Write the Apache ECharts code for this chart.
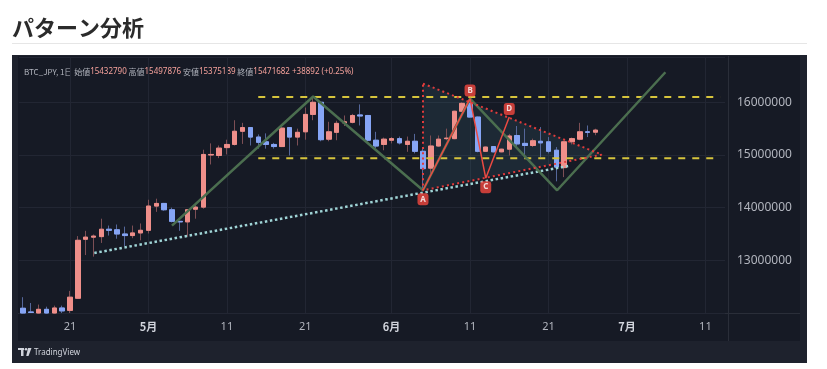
<!DOCTYPE html>
<html><head><meta charset="utf-8">
<script src="https://cdn.jsdelivr.net/npm/echarts@6/dist/echarts.min.js"></script>
<style>
html,body{margin:0;padding:0;background:#fff;}
#wrap{position:relative;width:827px;height:369px;overflow:hidden;}
.bg{position:absolute;}
#c{position:absolute;left:0;top:0;width:827px;height:369px;}
</style>
</head><body>
<div id="wrap">
  <div class="bg" style="left:12px;top:43px;width:795px;height:1px;background:#e6e6e6"></div>
  <div class="bg" style="left:12px;top:55px;width:795px;height:308px;background:#1e222d"></div>
  <div class="bg" style="left:18px;top:56px;width:782px;height:285px;background:#161a25"></div>
  <div id="c"></div>
</div>
<script>
// ---------- data ----------
const title = 'パターン分析';
const symbolName = 'BTC_JPY, 1日';
const startDay = [2025, 4, 15];
const dayCount = 90;
const opens = [12090000,12020000,12000000,12070000,12000000,12095000,12050000,12280000,13400000,13440000,
  13450000,13590000,13580000,13500000,13470000,13520000,13570000,14030000,14080000,13960000,
  13740000,13730000,13970000,14010000,15000000,14990000,15140000,15200000,15450000,15520000,
  15340000,15250000,15200000,15160000,15520000,15340000,15440000,15770000,16000000,15300000,
  15430000,15610000,15620000,15760000,15750000,15280000,15200000,15280000,15310000,15200000,
  15260000,15070000,14750000,15170000,15310000,15310000,15830000,15980000,15720000,15070000,
  15160000,15060000,15110000,15370000,15220000,15180000,15260000,15250000,15090000,14760000,
  15250000,15300000,15440000,15432790];
const closes = [12000000,12010000,12070000,12000000,12095000,12040000,12300000,13380000,13440000,13460000,
  13590000,13570000,13500000,13470000,13520000,13570000,14030000,14080000,13960000,13740000,
  13730000,13960000,14010000,15010000,15010000,15130000,15200000,15450000,15520000,15340000,
  15240000,15200000,15160000,15510000,15340000,15430000,15770000,16000000,15290000,15440000,
  15600000,15630000,15750000,15740000,15280000,15170000,15300000,15310000,15230000,15260000,
  15070000,14740000,15170000,15300000,15320000,15830000,15980000,15720000,15070000,15150000,
  15060000,15110000,15360000,15210000,15180000,15270000,15230000,15070000,14770000,15250000,
  15310000,15440000,15430000,15471682];
const lows = [11990000,12000000,11990000,11990000,11990000,12000000,12000000,12270000,13100000,13070000,
  13330000,13470000,13410000,13270000,13420000,13380000,13510000,13920000,13940000,13720000,
  13560000,13450000,13790000,13980000,14820000,14940000,15010000,15180000,15210000,15180000,
  15120000,15120000,15120000,15150000,14990000,15180000,15290000,15660000,15260000,15260000,
  15280000,15550000,15600000,15560000,15260000,15130000,15090000,15220000,15200000,15060000,
  15030000,14330000,14610000,15150000,15280000,15300000,15820000,15710000,15050000,15060000,
  15050000,15050000,14990000,15150000,14960000,15150000,14960000,15030000,14500000,14580000,
  15200000,15280000,15340000,15375189];
const highs = [12300000,12190000,12160000,12120000,12140000,12140000,12420000,13460000,13560000,13490000,
  13790000,13660000,13680000,13640000,13660000,13700000,14150000,14170000,14090000,14000000,
  13750000,13970000,14060000,15100000,15220000,15180000,15290000,15660000,15610000,15530000,
  15390000,15410000,15230000,15530000,15530000,15500000,15900000,16110000,16020000,15630000,
  15650000,15750000,15780000,15960000,15760000,15440000,15330000,15340000,15350000,15350000,
  15400000,15150000,15370000,15370000,15500000,15840000,16000000,16110000,15730000,15160000,
  15170000,15120000,15400000,15550000,15500000,15310000,15530000,15340000,15150000,15260000,
  15330000,15610000,15560000,15497876];
// overlays: x = day index (0 = first day), y = price
const zigzagX = [19.0, 37.0, 51.0, 57.0, 68.1, 81.9];
const zigzagY = [13660000, 16110000, 14330000, 16070000, 14330000, 16570000];
const abcdNames = ['A', 'B', 'C', 'D'];
const abcdX = [51.0, 57.0, 59.0, 62.0];
const abcdY = [14330000, 16070000, 14560000, 15720000];
const triangleX = [51.0, 73.8, 51.0];
const triangleY = [16355000, 15007000, 14330000];
const trendX = [9.1, 69.5];
const trendY = [13139000, 14790000];
const rangeX = [30.0, 88.9];
const rangeTop = 16100000;
const rangeBottom = 14940000;
const yTicks = [13000000, 14000000, 15000000, 16000000];

// ---------- build ----------
const categories = [];
{
  const t0 = Date.UTC(startDay[0], startDay[1] - 1, startDay[2]);
  for (let k = 0; k < dayCount; k++) categories.push(new Date(t0 + k * 86400000).toISOString().slice(0, 10));
}
const dayOf = c => +c.slice(8, 10);
const monthOf = c => +c.slice(5, 7);
const isMarkDay = i => [1, 11, 21].indexOf(dayOf(categories[i])) >= 0;

const candles = opens.map((o, i) => [o, closes[i], lows[i], highs[i]]);
const bodies = opens.map((o, i) => [o, closes[i], Math.min(o, closes[i]), Math.max(o, closes[i])]);
const last = opens.length - 1;
const chg = closes[last] - opens[last];
const pct = (chg / opens[last] * 100).toFixed(2);

const FONT = '"Noto Sans", "Noto Sans CJK JP", sans-serif';
const JP = '"Noto Sans CJK JP", "Noto Sans", sans-serif';
const UP = '#ef8f8a', DN = '#86a5f5', WUP = '#7d4f55', WDN = '#55679a';

const chart = echarts.init(document.getElementById('c'));
const pts = (xs, ys) => xs.map((x, k) => [x, ys[k]]);

chart.setOption({
  animation: false,
  grid: {left: 19, right: 102, top: 57, bottom: 56},
  xAxis: [
    {type: 'category', data: categories, boundaryGap: true,
     axisLine: {show: false}, axisTick: {show: false},
     axisLabel: {interval: (i) => isMarkDay(i), margin: 8, fontSize: 11, fontFamily: FONT, color: '#b2b5be',
       formatter: (v) => dayOf(v) === 1 ? '{m|' + monthOf(v) + '月}' : '{d|' + dayOf(v) + '}',
       rich: {m: {fontWeight: 'bold', color: '#d1d4dc', fontSize: 11, fontFamily: JP},
              d: {color: '#b2b5be', fontSize: 11, fontFamily: FONT}}},
     splitLine: {show: true, interval: (i) => isMarkDay(i), alignWithLabel: true, lineStyle: {color: '#222633', width: 1}}},
    {type: 'value', min: -0.5, max: dayCount - 0.5, show: false}
  ],
  yAxis: {type: 'value', position: 'right', min: 12000000, max: 16860000, interval: 1000000,
    axisLine: {show: false}, axisTick: {show: false},
    axisLabel: {margin: 12, fontSize: 12, fontFamily: FONT, color: '#b2b5be', showMinLabel: false, showMaxLabel: false,
      formatter: (v) => yTicks.indexOf(v) >= 0 ? String(v) : ''},
    splitLine: {lineStyle: {color: '#222633', width: 1}}},
  graphic: [
    {type: 'text', x: 12, y: 28, style: {text: title, fill: '#2b2b2b', font: 'bold 22px ' + JP, verticalAlign: 'middle'}},
    {type: 'rect', shape: {x: 18, y: 56, width: 710, height: 2}, style: {fill: '#161a25'}},
    {type: 'rect', shape: {x: 728, y: 56, width: 1, height: 285}, style: {fill: '#2a2e39'}},
    {type: 'rect', shape: {x: 18, y: 313, width: 782, height: 1}, style: {fill: '#2a2e39'}},
    {type: 'text', x: 24, y: 72, style: {
      text: '{l|' + symbolName + ' 始値}{v|' + opens[last] + '}{l| 高値}{v|' + highs[last] + '}{l| 安値}{v|' + lows[last] +
            '}{l| 終値}{v|' + closes[last] + '}{v| ' + (chg >= 0 ? '+' : '') + chg + ' (' + (chg >= 0 ? '+' : '') + pct + '%)}',
      verticalAlign: 'middle',
      rich: {l: {fill: '#b2b5be', fontSize: 8, fontFamily: JP}, v: {fill: '#f5a19b', fontSize: 8, fontFamily: FONT}}}},
    // TradingView logo (shapes) + text
    {type: 'rect', shape: {x: 18, y: 348, width: 6, height: 2}, style: {fill: '#d1d4dc'}},
    {type: 'rect', shape: {x: 21, y: 348, width: 2.5, height: 8}, style: {fill: '#d1d4dc'}},
    {type: 'circle', shape: {cx: 26, cy: 349.2, r: 1.3}, style: {fill: '#d1d4dc'}},
    {type: 'polygon', shape: {points: [[28, 348], [31.5, 348], [28.5, 356], [26.2, 356]]}, style: {fill: '#d1d4dc'}},
    {type: 'text', x: 34, y: 352.5, style: {text: 'TradingView', fill: '#d1d4dc', fontSize: 8, fontFamily: FONT, verticalAlign: 'middle'}}
  ],
  series: [
    {type: 'custom', xAxisIndex: 1, z: 1, silent: true, data: [[triangleX[0], triangleY[0]]],
     renderItem: (params, api) => ({type: 'polygon',
       shape: {points: triangleX.map((x, k) => api.coord([x, triangleY[k]]))},
       style: {fill: 'rgba(80,150,160,0.13)'}})},
    {type: 'candlestick', xAxisIndex: 0, data: candles, barWidth: 5, z: 2, silent: true,
     itemStyle: {color: WUP, color0: WDN, borderColor: WUP, borderColor0: WDN, borderWidth: 1}},
    {type: 'candlestick', xAxisIndex: 0, data: bodies, barWidth: 5, z: 3, silent: true,
     itemStyle: {color: UP, color0: DN, borderColor: UP, borderColor0: DN, borderWidth: 1}},
    {type: 'line', xAxisIndex: 1, z: 4, silent: true, symbol: 'none', data: pts(rangeX, [rangeTop, rangeTop]),
     lineStyle: {color: '#d6c43c', width: 2, type: [7, 7]}},
    {type: 'line', xAxisIndex: 1, z: 4, silent: true, symbol: 'none', data: pts(rangeX, [rangeBottom, rangeBottom]),
     lineStyle: {color: '#d6c43c', width: 2, type: [7, 7]}},
    {type: 'line', xAxisIndex: 1, z: 4, silent: true, symbol: 'none', data: pts(trendX, trendY),
     lineStyle: {color: '#9fd4d6', width: 2.5, type: [2.5, 2.6]}},
    {type: 'line', xAxisIndex: 1, z: 5, silent: true, symbol: 'none', data: pts(zigzagX, zigzagY),
     lineStyle: {color: '#4b6e4f', width: 2.5}},
    {type: 'line', xAxisIndex: 1, z: 6, silent: true, symbol: 'none',
     data: pts(triangleX.concat([triangleX[0]]), triangleY.concat([triangleY[0]])),
     lineStyle: {color: '#e23b3b', width: 2, type: [2, 3.2]}},
    {type: 'line', xAxisIndex: 1, z: 7, silent: true, symbol: 'none', data: pts(abcdX, abcdY),
     lineStyle: {color: '#ec4a42', width: 1.5}},
    {type: 'scatter', xAxisIndex: 1, z: 8, silent: true, symbol: 'roundRect', symbolSize: [11, 12],
     itemStyle: {color: '#f4473f'},
     label: {show: true, position: 'inside', formatter: (p) => p.name, color: '#fff', fontSize: 8, fontWeight: 'bold', fontFamily: FONT},
     data: abcdNames.map((n, k) => ({name: n, value: [abcdX[k], abcdY[k]], symbolOffset: [0, (k % 2 === 0) ? 9 : -8]}))}
  ]
});
</script>
</body></html>
